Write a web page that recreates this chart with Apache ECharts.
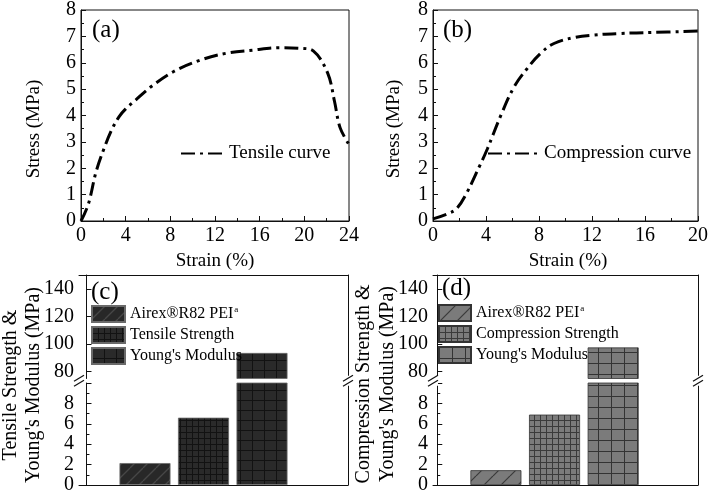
<!DOCTYPE html>
<html><head><meta charset="utf-8">
<script src="https://cdn.jsdelivr.net/npm/echarts@6/dist/echarts.min.js"></script>
<style>html,body{margin:0;padding:0;background:#fff}#main{width:711px;height:495px}</style>
</head><body><div id="main"></div>
<script>
// ---------- data ----------
const strainA = [0, 0.66, 1.34, 2.1, 2.8, 3.4, 4.0, 4.8, 6.3, 8.3, 10.7, 13.0, 15.4, 17.8, 19.6, 20.8, 22.1, 22.7, 23.2, 24];
const stressA = [0, 0.64, 1.85, 2.79, 3.5, 3.95, 4.25, 4.55, 5.1, 5.67, 6.1, 6.36, 6.48, 6.57, 6.55, 6.45, 5.6, 4.54, 3.54, 2.9];
const strainB = [0, 1.17, 1.8, 2.54, 3.53, 4.1, 5.15, 6.14, 7.14, 8.13, 9.13, 10.6, 12.1, 14.1, 16.6, 20];
const stressB = [0.08, 0.29, 0.48, 1.06, 2.1, 2.73, 4.04, 5.1, 5.8, 6.36, 6.73, 6.95, 7.05, 7.11, 7.15, 7.2];
const curveNameA = 'Tensile curve';
const curveNameB = 'Compression curve';
const barNamesC = ['Airex®R82 PEI', 'Tensile Strength', "Young's Modulus"];
const barValuesC = [2.15, 6.6, 93.5];
const barNamesD = ['Airex®R82 PEI', 'Compression Strength', "Young's Modulus"];
const barValuesD = [1.45, 6.9, 97.5];
const barPositions = [1, 2, 3];
const upperTicks = [80, 100, 120, 140];
const panelLabels = ['(a)', '(b)', '(c)', '(d)'];
const yTitleC = ['Tensile Strength &', "Young's Modulus (MPa)"];
const yTitleD = ['Compression Strength &', "Young's Modulus (MPa)"];
const xTitle = 'Strain (%)';
const yTitle = 'Stress (MPa)';

// ---------- styles ----------
const FONT = 'Liberation Serif';
const AX = '#111';
function makeDiag(fill, line, s, lw) {
  const c = document.createElement('canvas'); c.width = s; c.height = s;
  const g = c.getContext('2d'); g.fillStyle = fill; g.fillRect(0, 0, s, s);
  g.strokeStyle = line; g.lineWidth = lw;
  for (const k of [-1, 0, 1]) { g.beginPath(); g.moveTo(k * s, s); g.lineTo(k * s + s, 0); g.stroke(); }
  return {image: c, repeat: 'repeat'};
}
function makeGrid(fill, line, sx, sy, lw) {
  const c = document.createElement('canvas'); c.width = sx; c.height = sy;
  const g = c.getContext('2d'); g.fillStyle = fill; g.fillRect(0, 0, sx, sy);
  g.fillStyle = line; g.fillRect(0, 0, lw, sy); g.fillRect(0, 0, sx, lw);
  return {image: c, repeat: 'repeat'};
}
const patC = [makeDiag('#282828', '#474747', 13, 1.3), makeGrid('#2a2a2a', '#121212', 6, 6, 1), makeGrid('#2a2a2a', '#121212', 12, 10, 1)];
const patD = [makeDiag('#7b7b7b', '#3a3a3a', 17, 1.2), makeGrid('#7b7b7b', '#3a3a3a', 6, 6, 1), makeGrid('#7b7b7b', '#333333', 13, 11, 1)];

// ---------- layout ----------
const G = {
  a: {left: 81, top: 8, width: 268, height: 213},
  b: {left: 433, top: 8, width: 268, height: 213},
  cu: {left: 79, top: 275, width: 269, height: 103.5},
  cl: {left: 79, top: 383, width: 269, height: 104},
  du: {left: 433, top: 275, width: 265, height: 103.5},
  dl: {left: 433, top: 383, width: 265, height: 104}
};
const grids = [
  Object.assign({show: true, borderColor: AX, borderWidth: 1}, G.a),
  Object.assign({show: true, borderColor: AX, borderWidth: 1}, G.b),
  G.cu, G.cl, G.du, G.dl
];
function lbl(extra) { return Object.assign({color: '#000', fontFamily: FONT, fontSize: 20}, extra); }
function lineX(gi, max) {
  return {type: 'value', gridIndex: gi, min: 0, max: max, interval: 4,
    axisLine: {lineStyle: {color: AX}}, axisTick: {inside: true, length: 5, lineStyle: {color: AX}},
    minorTick: {show: true, splitNumber: 2, length: 3, lineStyle: {color: AX}}, splitLine: {show: false}, minorSplitLine: {show: false},
    axisLabel: lbl({margin: 5, showMaxLabel: true})};
}
function lineY(gi) {
  return {type: 'value', gridIndex: gi, min: 0, max: 8, interval: 1,
    axisLine: {lineStyle: {color: AX}}, axisTick: {inside: true, length: 5, lineStyle: {color: AX}},
    minorTick: {show: true, splitNumber: 2, length: 3, lineStyle: {color: AX}}, splitLine: {show: false},
    axisLabel: lbl({margin: 5})};
}
function barX(gi, pos, xmin, xmax) {
  return {type: 'value', gridIndex: gi, min: xmin, max: xmax, position: pos, axisLine: {onZero: false, lineStyle: {color: AX}},
    axisTick: {show: false}, axisLabel: {show: false}, splitLine: {show: false}};
}
function barYUpper(gi) {
  return {type: 'value', gridIndex: gi, min: 75, max: 150, axisLine: {lineStyle: {color: AX}},
    axisTick: {inside: true, length: 5, customValues: upperTicks, lineStyle: {color: AX}},
    axisLabel: lbl({margin: 5, customValues: upperTicks}), splitLine: {show: false}};
}
function barYLower(gi) {
  return {type: 'value', gridIndex: gi, min: 0, max: 10, interval: 2, axisLine: {lineStyle: {color: AX}},
    axisTick: {inside: true, length: 5, lineStyle: {color: AX}},
    minorTick: {show: true, splitNumber: 2, length: 3, lineStyle: {color: AX}},
    axisLabel: lbl({margin: 5, showMaxLabel: false}), splitLine: {show: false}};
}
function rightY(gi, min, max) {
  return {type: 'value', gridIndex: gi, min: min, max: max, position: 'right', axisLine: {show: true, lineStyle: {color: AX}},
    axisTick: {show: false}, axisLabel: {show: false}, splitLine: {show: false}};
}
const xAxes = [lineX(0, 24), lineX(1, 20),
  barX(2, 'top', -0.128, 4.47), barX(3, 'bottom', -0.128, 4.47),
  barX(4, 'top', -0.073, 4.447), barX(5, 'bottom', -0.073, 4.447)];
const yAxes = [lineY(0), lineY(1),
  barYUpper(2), barYLower(3), barYUpper(4), barYLower(5),
  rightY(2, 75, 150), rightY(3, 0, 10), rightY(4, 75, 150), rightY(5, 0, 10)];

const dashDot = {color: '#000', width: 3, type: [14, 5, 3, 5], cap: 'butt'};
const series = [];
series.push({type: 'line', name: curveNameA, xAxisIndex: 0, yAxisIndex: 0, symbol: 'none', smooth: 0.35,
  data: strainA.map((s, i) => [s, stressA[i]]), lineStyle: dashDot, itemStyle: {color: '#000'}});
series.push({type: 'line', name: curveNameB, xAxisIndex: 1, yAxisIndex: 1, symbol: 'none', smooth: 0.4,
  data: strainB.map((s, i) => [s, stressB[i]]), lineStyle: dashDot, itemStyle: {color: '#000'}});
function addBars(names, values, pats, border, tag, xu, xl, yu, yl) {
  names.forEach((n, i) => {
    const st = {color: pats[i], borderColor: border, borderWidth: 0.8};
    const common = {type: 'bar', name: n + tag, barWidth: 51, barGap: '-100%', clip: true, itemStyle: st, emphasis: {disabled: true}};
    series.push(Object.assign({}, common, {xAxisIndex: xl, yAxisIndex: yl, data: [[barPositions[i], values[i]]]}));
    if (values[i] > 10) series.push(Object.assign({}, common, {xAxisIndex: xu, yAxisIndex: yu, data: [[barPositions[i], values[i]]]}));
  });
}
addBars(barNamesC, barValuesC, patC, '#6a6a6a', ' #c', 2, 3, 2, 3);
addBars(barNamesD, barValuesD, patD, '#333', ' #d', 4, 5, 4, 5);

function legendFmt(name) {
  const n = name.replace(/ #[cd]$/, '');
  if (n === 'Airex®R82 PEI') return n + '{s|a}';
  return n;
}
function legTxt() {
  return {fontFamily: FONT, fontSize: 16, color: '#000',
    rich: {s: {fontFamily: FONT, fontSize: 9, color: '#000', verticalAlign: 'top', padding: [0, 0, 8, 1]}}};
}
const lineLegTxt = () => ({fontFamily: FONT, fontSize: 19, color: '#000'});
const hiddenSym = {color: 'rgba(0,0,0,0)', opacity: 0, borderWidth: 0};
const legends = [
  {data: [curveNameA], left: 180, top: 144, itemWidth: 43, itemHeight: 16, padding: 0, itemGap: 0, itemStyle: hiddenSym,
    textStyle: lineLegTxt(), selectedMode: false},
  {data: [curveNameB], left: 487, top: 144, itemWidth: 51, itemHeight: 16, padding: 0, itemGap: 0, itemStyle: hiddenSym,
    textStyle: lineLegTxt(), selectedMode: false},
  {data: barNamesC.map(n => n + ' #c'), orient: 'vertical', left: 91, top: 305, itemWidth: 33, itemHeight: 16, itemGap: 3, padding: 0,
    icon: 'rect', formatter: legendFmt, textStyle: legTxt(), selectedMode: false},
  {data: barNamesD.map(n => n + ' #d'), orient: 'vertical', left: 438, top: 304, itemWidth: 32, itemHeight: 16, itemGap: 3, padding: 0,
    icon: 'rect', formatter: legendFmt, textStyle: legTxt(), selectedMode: false}
];
const titlePos = [[92, 18], [443, 18], [91, 280], [442, 276]];
const titles = panelLabels.map((t, i) => ({text: t, left: titlePos[i][0], top: titlePos[i][1], padding: 0,
  textStyle: {fontFamily: FONT, fontSize: 25, fontWeight: 'normal', color: '#000'}}));

const graphics = [];
function gText(text, x, y, rot, size) {
  graphics.push({type: 'text', x: x, y: y, rotation: rot,
    style: {text: text, font: size + 'px "' + FONT + '"', fill: '#000', align: 'center', verticalAlign: 'middle'}});
}
// axis titles
gText(xTitle, 215, 261, 0, 19);
gText(xTitle, 568, 261, 0, 19);
gText(yTitle, 34, 129, Math.PI / 2, 19);
gText(yTitle, 394, 129, Math.PI / 2, 19);
gText(yTitleC[0], 11, 385, Math.PI / 2, 20);
gText(yTitleC[1], 34, 385, Math.PI / 2, 20);
gText(yTitleD[0], 364, 384, Math.PI / 2, 20);
gText(yTitleD[1], 388, 384, Math.PI / 2, 20);
function breakMark(x, yb) {
  graphics.push({type: 'rect', shape: {x: x - 5, y: yb - 5, width: 10, height: 10}, style: {fill: '#fff'}, z: 100});
  [-2.5, 2.5].forEach(d => graphics.push({type: 'line', z: 101,
    shape: {x1: x - 5, y1: yb + d + 3, x2: x + 5, y2: yb + d - 3}, style: {stroke: AX, lineWidth: 1.2}}));
}
const bY = (G.cu.top + G.cu.height + G.cl.top) / 2;
breakMark(G.cu.left, bY); breakMark(G.cu.left + G.cu.width, bY);
breakMark(G.du.left, bY); breakMark(G.du.left + G.du.width, bY);

const chart = echarts.init(document.getElementById('main'));
chart.setOption({
  animation: false, backgroundColor: '#fff', textStyle: {fontFamily: FONT},
  title: titles, legend: legends, grid: grids, xAxis: xAxes, yAxis: yAxes, series: series, graphic: graphics
});
</script></body></html>
